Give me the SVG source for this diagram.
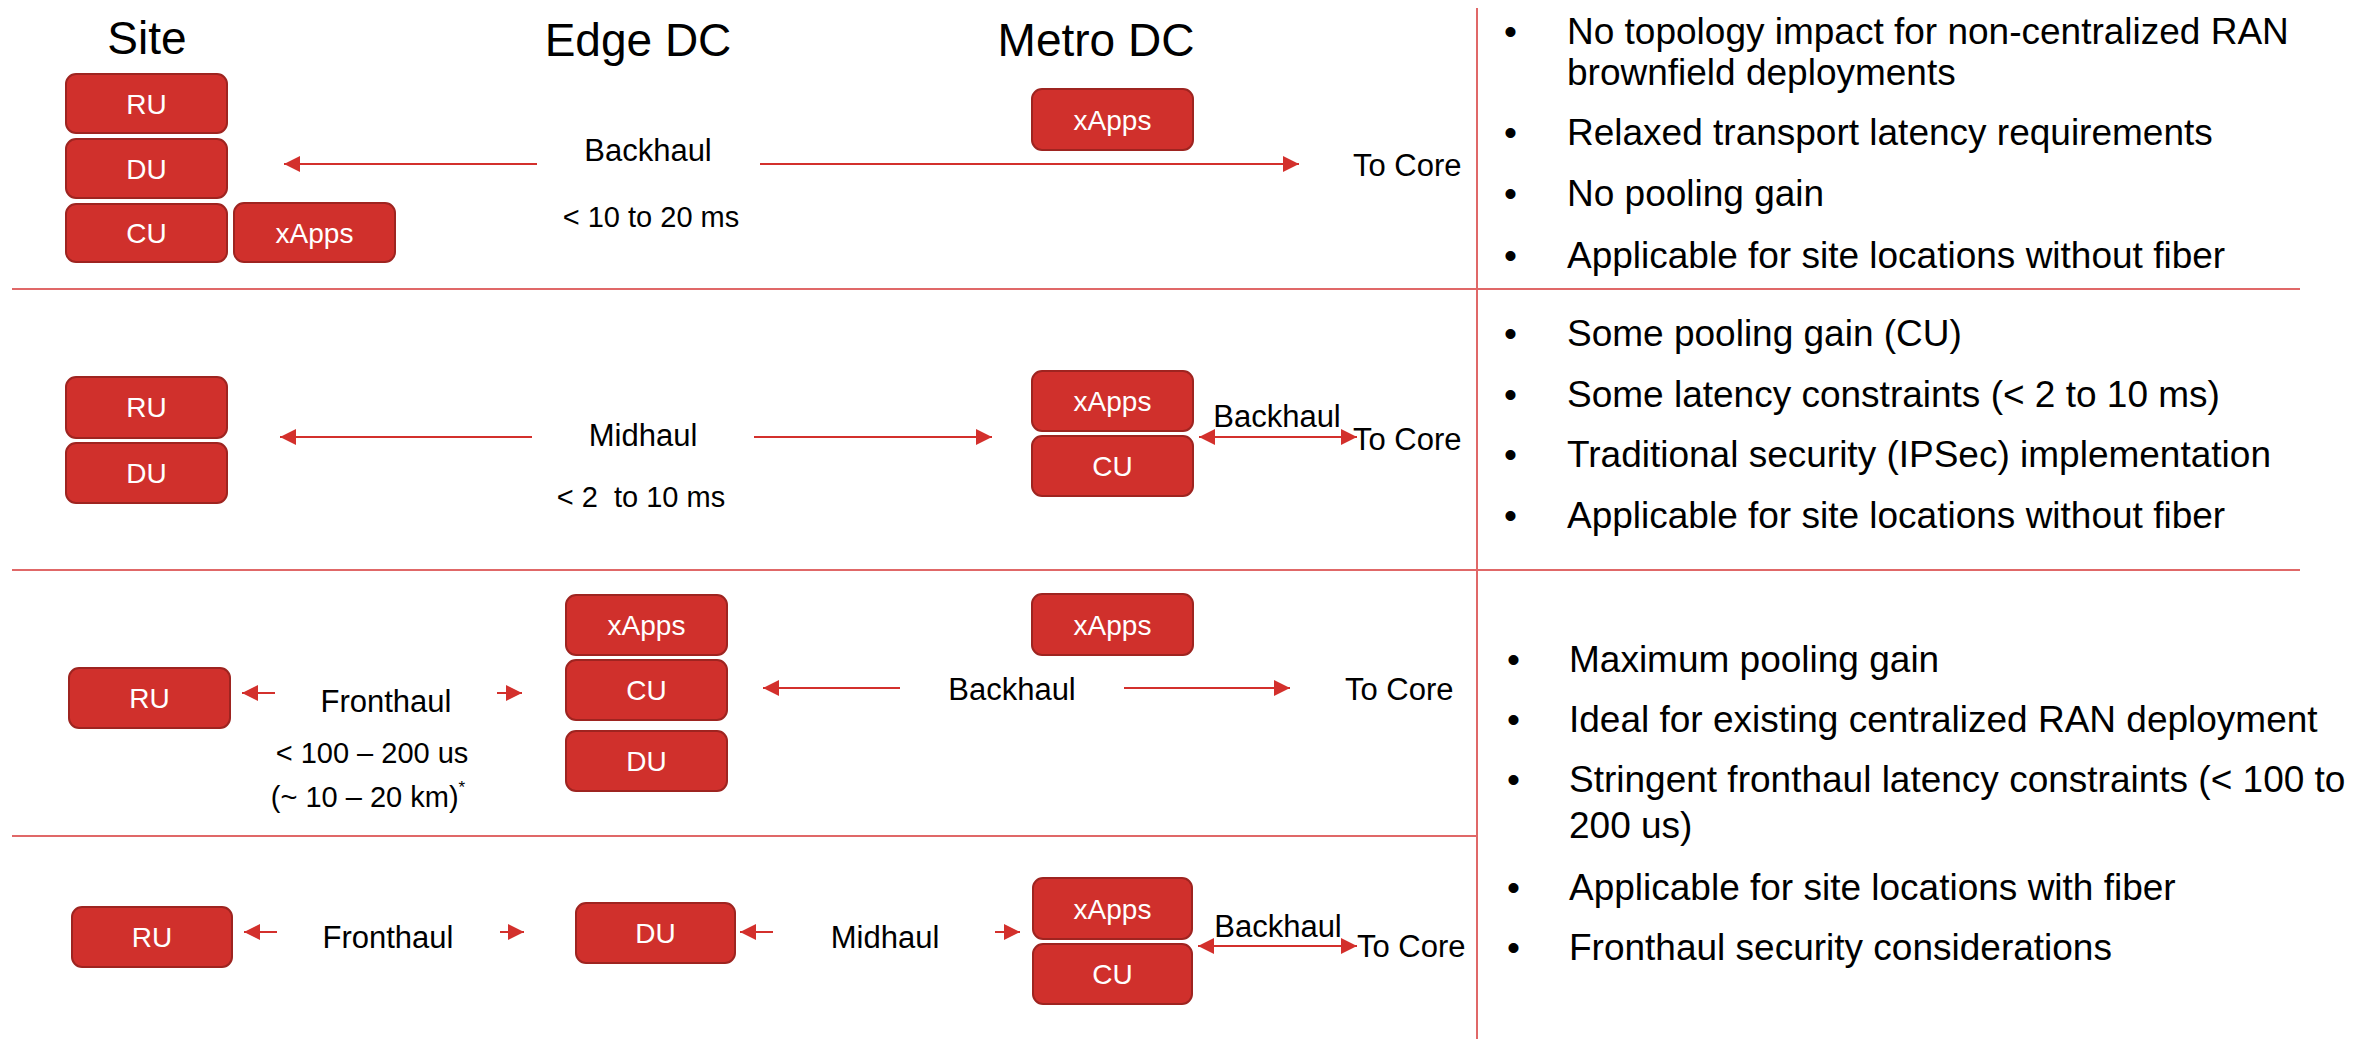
<svg xmlns="http://www.w3.org/2000/svg" width="2356" height="1039" viewBox="0 0 2356 1039">
<style>
text{font-family:"Liberation Sans",Arial,Helvetica,sans-serif;fill:#000}
.title{font-size:46px;text-anchor:middle}
.box rect{fill:#D0302C;stroke:#9E2420;stroke-width:2}
.box text{fill:#fff;font-size:28px;text-anchor:middle}
.lbl{font-size:31px}
.c{text-anchor:middle}
.lat{font-size:29px;text-anchor:middle;white-space:pre}
.div{stroke:#E06868;stroke-width:2;fill:none}
.arr{stroke:#D3302C;stroke-width:2;fill:none}
.b{font-size:37px}
</style>
<defs>
<marker id="ah" markerUnits="userSpaceOnUse" markerWidth="16" markerHeight="16" refX="16" refY="8" orient="auto">
<path d="M0,0 L16,8 L0,16 z" fill="#D3302C"/>
</marker>
<marker id="ahs" markerUnits="userSpaceOnUse" markerWidth="16" markerHeight="16" refX="16" refY="8" orient="auto-start-reverse">
<path d="M0,0 L16,8 L0,16 z" fill="#D3302C"/>
</marker>
</defs>

<g id="dividers">
<line class="div" x1="12" y1="289" x2="2300" y2="289"/>
<line class="div" x1="12" y1="570" x2="2300" y2="570"/>
<line class="div" x1="12" y1="836" x2="1477" y2="836"/>
<line class="div" x1="1477" y1="8" x2="1477" y2="1039"/>
</g>

<g id="titles">
<text class="title" x="147" y="54">Site</text>
<text class="title" x="638" y="56">Edge DC</text>
<text class="title" x="1096" y="56">Metro DC</text>
</g>

<!-- Row 1 -->
<g id="r1-site-ru" class="box"><rect x="66" y="74" width="161" height="59" rx="10"/><text x="146.5" y="114">RU</text></g>
<g id="r1-site-du" class="box"><rect x="66" y="139" width="161" height="59" rx="10"/><text x="146.5" y="179">DU</text></g>
<g id="r1-site-cu" class="box"><rect x="66" y="204" width="161" height="58" rx="10"/><text x="146.5" y="243">CU</text></g>
<g id="r1-site-xapps" class="box"><rect x="234" y="203" width="161" height="59" rx="10"/><text x="314.5" y="243">xApps</text></g>
<g id="r1-metro-xapps" class="box"><rect x="1032" y="89" width="161" height="61" rx="10"/><text x="1112.5" y="130">xApps</text></g>

<!-- Row 2 -->
<g id="r2-site-ru" class="box"><rect x="66" y="377" width="161" height="61" rx="10"/><text x="146.5" y="417">RU</text></g>
<g id="r2-site-du" class="box"><rect x="66" y="443" width="161" height="60" rx="10"/><text x="146.5" y="483">DU</text></g>
<g id="r2-metro-xapps" class="box"><rect x="1032" y="371" width="161" height="60" rx="10"/><text x="1112.5" y="411">xApps</text></g>
<g id="r2-metro-cu" class="box"><rect x="1032" y="436" width="161" height="60" rx="10"/><text x="1112.5" y="476">CU</text></g>

<!-- Row 3 -->
<g id="r3-site-ru" class="box"><rect x="69" y="668" width="161" height="60" rx="10"/><text x="149.5" y="708">RU</text></g>
<g id="r3-edge-xapps" class="box"><rect x="566" y="595" width="161" height="60" rx="10"/><text x="646.5" y="635">xApps</text></g>
<g id="r3-edge-cu" class="box"><rect x="566" y="660" width="161" height="60" rx="10"/><text x="646.5" y="700">CU</text></g>
<g id="r3-edge-du" class="box"><rect x="566" y="731" width="161" height="60" rx="10"/><text x="646.5" y="771">DU</text></g>
<g id="r3-metro-xapps" class="box"><rect x="1032" y="594" width="161" height="61" rx="10"/><text x="1112.5" y="635">xApps</text></g>

<!-- Row 4 -->
<g id="r4-site-ru" class="box"><rect x="72" y="907" width="160" height="60" rx="10"/><text x="152" y="947">RU</text></g>
<g id="r4-edge-du" class="box"><rect x="576" y="903" width="159" height="60" rx="10"/><text x="655.5" y="943">DU</text></g>
<g id="r4-metro-xapps" class="box"><rect x="1033" y="878" width="159" height="61" rx="10"/><text x="1112.5" y="919">xApps</text></g>
<g id="r4-metro-cu" class="box"><rect x="1033" y="944" width="159" height="60" rx="10"/><text x="1112.5" y="984">CU</text></g>

<g id="connectors">
<!-- row 1 -->
<line class="arr" x1="537" y1="164" x2="284" y2="164" marker-end="url(#ah)"/>
<line class="arr" x1="760" y1="164" x2="1299" y2="164" marker-end="url(#ah)"/>
<!-- row 2 -->
<line class="arr" x1="532" y1="437" x2="280" y2="437" marker-end="url(#ah)"/>
<line class="arr" x1="754" y1="437" x2="992" y2="437" marker-end="url(#ah)"/>
<line class="arr" x1="1199" y1="437" x2="1357" y2="437" marker-start="url(#ahs)" marker-end="url(#ahs)"/>
<!-- row 3 -->
<line class="arr" x1="275" y1="693" x2="242" y2="693" marker-end="url(#ah)"/>
<line class="arr" x1="497" y1="693" x2="522" y2="693" marker-end="url(#ah)"/>
<line class="arr" x1="900" y1="688" x2="763" y2="688" marker-end="url(#ah)"/>
<line class="arr" x1="1124" y1="688" x2="1290" y2="688" marker-end="url(#ah)"/>
<!-- row 4 -->
<line class="arr" x1="277" y1="932" x2="244" y2="932" marker-end="url(#ah)"/>
<line class="arr" x1="500" y1="932" x2="524" y2="932" marker-end="url(#ah)"/>
<line class="arr" x1="773" y1="932" x2="740" y2="932" marker-end="url(#ah)"/>
<line class="arr" x1="995" y1="932" x2="1020" y2="932" marker-end="url(#ah)"/>
<line class="arr" x1="1198" y1="946" x2="1357" y2="946" marker-start="url(#ahs)" marker-end="url(#ahs)"/>
</g>

<g id="labels">
<text class="lbl c" x="648" y="161">Backhaul</text>
<text class="lat" x="651" y="227">&lt; 10 to 20 ms</text>
<text class="lbl" x="1353" y="176">To Core</text>

<text class="lbl c" x="643" y="446">Midhaul</text>
<text class="lat" x="641" y="507">&lt; 2  to 10 ms</text>
<text class="lbl c" x="1277" y="427">Backhaul</text>
<text class="lbl" x="1353" y="450">To Core</text>

<text class="lbl c" x="386" y="712">Fronthaul</text>
<text class="lat" x="372" y="763">&lt; 100 – 200 us</text>
<text class="lat" x="368" y="807">(~ 10 – 20 km)<tspan font-size="17" dy="-14">*</tspan></text>
<text class="lbl c" x="1012" y="700">Backhaul</text>
<text class="lbl" x="1345" y="700">To Core</text>

<text class="lbl c" x="388" y="948">Fronthaul</text>
<text class="lbl c" x="885" y="948">Midhaul</text>
<text class="lbl c" x="1278" y="937">Backhaul</text>
<text class="lbl" x="1357" y="957">To Core</text>
</g>

<g id="notes" class="b">
<text class="b" x="1504" y="44">•</text><text class="b" x="1567" y="44">No topology impact for non-centralized RAN</text>
<text class="b" x="1567" y="85">brownfield deployments</text>
<text class="b" x="1504" y="145">•</text><text class="b" x="1567" y="145">Relaxed transport latency requirements</text>
<text class="b" x="1504" y="206">•</text><text class="b" x="1567" y="206">No pooling gain</text>
<text class="b" x="1504" y="268">•</text><text class="b" x="1567" y="268">Applicable for site locations without fiber</text>

<text class="b" x="1504" y="346">•</text><text class="b" x="1567" y="346">Some pooling gain (CU)</text>
<text class="b" x="1504" y="407">•</text><text class="b" x="1567" y="407">Some latency constraints (&lt; 2 to 10 ms)</text>
<text class="b" x="1504" y="467">•</text><text class="b" x="1567" y="467">Traditional security (IPSec) implementation</text>
<text class="b" x="1504" y="528">•</text><text class="b" x="1567" y="528">Applicable for site locations without fiber</text>

<text class="b" x="1507" y="672">•</text><text class="b" x="1569" y="672">Maximum pooling gain</text>
<text class="b" x="1507" y="732">•</text><text class="b" x="1569" y="732">Ideal for existing centralized RAN deployment</text>
<text class="b" x="1507" y="792">•</text><text class="b" x="1569" y="792">Stringent fronthaul latency constraints (&lt; 100 to</text>
<text class="b" x="1569" y="838">200 us)</text>
<text class="b" x="1507" y="900">•</text><text class="b" x="1569" y="900">Applicable for site locations with fiber</text>
<text class="b" x="1507" y="960">•</text><text class="b" x="1569" y="960">Fronthaul security considerations</text>
</g>
</svg>
